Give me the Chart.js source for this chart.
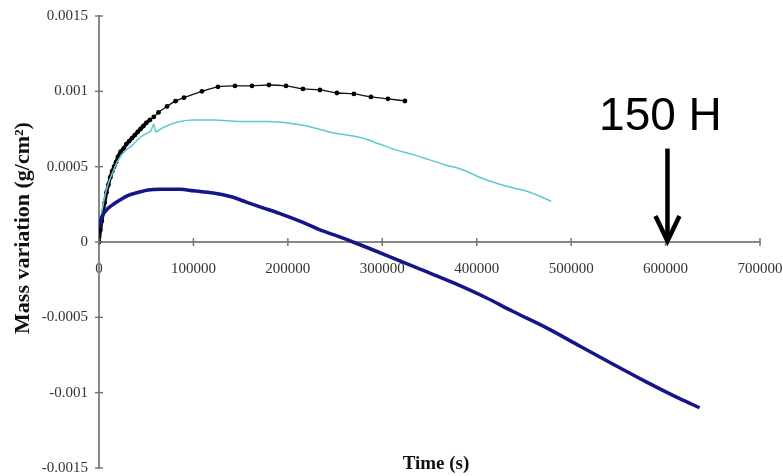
<!DOCTYPE html>
<html>
<head>
<meta charset="utf-8">
<script src="https://cdn.jsdelivr.net/npm/chart.js@4.4.0/dist/chart.umd.min.js"></script>
<style>
  body { margin: 0; background: #fff; }
  #wrap { width: 783px; height: 476px; position: relative; }
</style>
</head>
<body>
<div id="wrap"><canvas id="myChart"></canvas></div>
<script>

// Data (time in s, mass variation in g/cm2)
// --------------------------------------------
let blackTime = [0, 1500, 3000, 4500, 6000, 8000, 10000, 12000, 14000, 16000, 18000, 20000, 23000, 26000,
    29000, 32000, 35000, 38000, 41000, 44000, 47000, 50000, 54000, 58000, 63000, 72000, 81000, 90000,
    109000, 126000, 144000, 162000, 180000, 198000, 216000, 234000, 252000, 270000, 288000, 306000, 324000]
let blackMass = [0, 0.00008, 0.00014, 0.0002, 0.00026, 0.00033, 0.00038, 0.00043, 0.00047, 0.0005, 0.00053, 0.000565, 0.0006, 0.00062,
    0.00065, 0.00067, 0.00069, 0.00071, 0.00073, 0.00075, 0.00077, 0.00079, 0.00081, 0.00083, 0.00086, 0.0009, 0.000935, 0.000958,
    0.001, 0.00103, 0.001036, 0.001036, 0.001042, 0.001036, 0.001016, 0.001009, 0.000989, 0.000983, 0.000963, 0.00095, 0.000936]

let cyanTime = [0, 3000, 6000, 10000, 15000, 20000, 27000, 35000, 43000, 50000, 55000, 58000, 60000, 63000,
    68000, 75000, 86000, 100000, 121000, 150000, 180000, 200000, 220000, 244000, 262000, 279000, 297000,
    315000, 333000, 350000, 368000, 385000, 403000, 421000, 438000, 456000, 468000, 479000]
let cyanMass = [0.0001, 0.0002, 0.0003, 0.00039, 0.00047, 0.00054, 0.0006, 0.00064, 0.00069, 0.00072, 0.00074, 0.00078, 0.00073, 0.00074,
    0.00076, 0.00078, 0.0008, 0.00081, 0.00081, 0.0008, 0.0008, 0.00079, 0.00077, 0.00073, 0.00071, 0.00069, 0.00065,
    0.00061, 0.00058, 0.000545, 0.00051, 0.00048, 0.00043, 0.00039, 0.00036, 0.00033, 0.0003, 0.00027]

let navyTime = [0, 2000, 5000, 9000, 14000, 20000, 31000, 42000, 52000, 65000, 77000, 86000, 100000, 121000,
    140000, 156000, 172000, 191000, 216000, 234000, 252000, 269000, 305000, 340000, 375000, 410000,
    438000, 474000, 509000, 544000, 580000, 615000, 636000]
let navyMass = [0.0001, 0.00015, 0.00019, 0.00022, 0.000245, 0.00027, 0.00031, 0.00033, 0.000345, 0.00035, 0.00035, 0.00035, 0.00034, 0.000325,
    0.0003, 0.000265, 0.00023, 0.00019, 0.00013, 0.00008, 0.00004, 0.0, -0.00009, -0.00018, -0.00027, -0.00037,
    -0.00046, -0.00057, -0.00069, -0.00081, -0.00093, -0.00104, -0.0011]

// axis ranges and the "150 H" marker
let xTicks = [0, 700000, 100000]   // min, max, step
let yTicks = [-0.0015, 0.0015, 0.0005]
let markTime = 602000
let markTop = 0.00062
let markText = '150 H'
let markTextY = 0.000745


// Pairs time/mass arrays into {x, y} points
// --------------------------------------------
function toPoints(t, m) {
    let pts = []
    for (let i = 0; i < t.length; i++) {
        pts.push({ x: t[i], y: m[i] })
    }
    return pts
}


// Crossing tick marks, axis titles and the arrow
// --------------------------------------------
const extras = {
    id: 'extras',
    afterDraw(chart) {
        const ctx = chart.ctx
        const xs = chart.scales.x
        const ys = chart.scales.y
        const x0 = xs.getPixelForValue(0)
        const y0 = ys.getPixelForValue(0)

        ctx.save()
        ctx.strokeStyle = '#777'
        ctx.lineWidth = 1.5
        for (const t of xs.ticks) {
            const px = xs.getPixelForValue(t.value)
            ctx.beginPath()
            ctx.moveTo(px, y0 - 4)
            ctx.lineTo(px, y0 + 4)
            ctx.stroke()
        }
        for (const t of ys.ticks) {
            const py = ys.getPixelForValue(t.value)
            ctx.beginPath()
            ctx.moveTo(x0 - 4, py)
            ctx.lineTo(x0 + 4, py)
            ctx.stroke()
        }

        // axis titles
        ctx.fillStyle = '#111'
        ctx.textAlign = 'center'
        ctx.textBaseline = 'middle'
        ctx.font = 'bold 19px "Liberation Serif", "Times New Roman", serif'
        ctx.fillText('Time (s)', 436, 464)
        ctx.save()
        ctx.translate(23, 228)
        ctx.rotate(-Math.PI / 2)
        ctx.font = 'bold 22px "Liberation Serif", "Times New Roman", serif'
        ctx.fillText('Mass variation (g/cm²)', 0, 0)
        ctx.restore()

        // arrow
        const ax = xs.getPixelForValue(markTime)
        const top = ys.getPixelForValue(markTop)
        ctx.strokeStyle = '#000'
        ctx.lineWidth = 4.5
        ctx.lineCap = 'butt'
        ctx.beginPath()
        ctx.moveTo(ax, top)
        ctx.lineTo(ax, y0 - 2)
        ctx.stroke()
        ctx.beginPath()
        ctx.moveTo(ax - 12, y0 - 26)
        ctx.lineTo(ax, y0 - 1)
        ctx.lineTo(ax + 12, y0 - 26)
        ctx.stroke()

        ctx.fillStyle = '#000'
        ctx.font = '46px "Liberation Sans", Arial, sans-serif'
        ctx.textBaseline = 'alphabetic'
        ctx.fillText(markText, ax - 7, ys.getPixelForValue(markTextY))
        ctx.restore()
    }
}


// Builds the chart
// --------------------------------------------
function plot() {
    const ctx = document.getElementById('myChart').getContext('2d')
    const tickFont = { family: '"Liberation Serif", "Times New Roman", serif', size: 15 }

    new Chart(ctx, {
        type: 'line',
        data: {
            datasets: [{
                data: toPoints(navyTime, navyMass),
                borderColor: '#15158a',
                borderWidth: 3.5,
                pointRadius: 0,
                cubicInterpolationMode: 'monotone'
            }, {
                data: toPoints(cyanTime, cyanMass),
                borderColor: '#5cc9d9',
                borderWidth: 1.5,
                pointRadius: 0,
                cubicInterpolationMode: 'monotone'
            }, {
                data: toPoints(blackTime, blackMass),
                borderColor: '#111',
                borderWidth: 1.3,
                segment: {
                    // the early, dense part reads as one thick black stroke
                    borderWidth: c => c.p1.parsed.x <= 54000 ? 3.5 : 1.3
                },
                pointRadius: 2.4,
                pointBackgroundColor: '#000',
                pointBorderWidth: 0,
                cubicInterpolationMode: 'monotone'
            }]
        },
        options: {
            responsive: true,
            maintainAspectRatio: false,
            animation: false,
            layout: { padding: { left: 0, right: 23, top: 16, bottom: 8 } },
            plugins: {
                legend: { display: false },
                tooltip: { enabled: false }
            },
            scales: {
                x: {
                    type: 'linear',
                    position: { y: 0 },
                    min: xTicks[0],
                    max: xTicks[1],
                    grid: { drawOnChartArea: false, drawTicks: false },
                    border: { color: '#888', width: 2 },
                    afterFit: s => {
                        s.height = 0
                        s.paddingLeft = 0
                        s.paddingRight = 0
                    },
                    ticks: {
                        stepSize: xTicks[2],
                        padding: 18,
                        color: '#333',
                        font: tickFont,
                        maxRotation: 0,
                        callback: v => String(v)
                    }
                },
                y: {
                    min: yTicks[0],
                    max: yTicks[1],
                    grid: { drawOnChartArea: false, drawTicks: false },
                    border: { color: '#888', width: 2 },
                    afterFit: s => {
                        s.width = 99
                        s.paddingTop = 0
                        s.paddingBottom = 0
                    },
                    ticks: {
                        stepSize: yTicks[2],
                        padding: 11,
                        color: '#333',
                        font: tickFont,
                        callback: v => String(Number(v.toFixed(4)))
                    }
                }
            }
        },
        plugins: [extras]
    })
}

plot()
</script>
</body>
</html>
